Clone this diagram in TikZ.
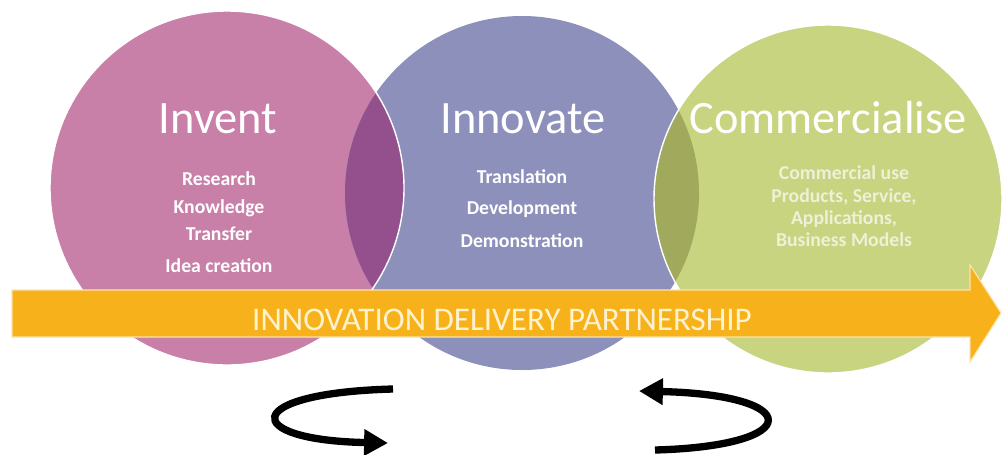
\documentclass[tikz,border=0pt]{standalone}
\usepackage{fontspec}
\setmainfont{Carlito}
\usepackage{tikz}
\usetikzlibrary{arrows.meta, positioning}

\definecolor{inventpink}{HTML}{C880A9}
\definecolor{inventdark}{HTML}{93508C}
\definecolor{innovateblue}{HTML}{8C90BA}
\definecolor{commgreen}{HTML}{C8D480}
\definecolor{commdark}{HTML}{A0A95C}
\definecolor{bandorange}{HTML}{F7B21B}
\definecolor{bandedge}{HTML}{FFE3A0}
\definecolor{bandtext}{HTML}{FFF2CF}
\definecolor{greentext}{HTML}{EEF1D8}

\begin{document}
\begin{tikzpicture}[
      x=0.025cm, y=-0.025cm,  % work in pixel-like units, y downwards
      title/.style={anchor=base, text=white, font=\fontsize{33}{36}\selectfont},
      item/.style={anchor=base, text=white, font=\bfseries\fontsize{14}{17}\selectfont},
      cycle arrow/.style={line width=5.2pt, -{Triangle[length=17pt, width=18pt]}}
    ]
    \useasboundingbox (0,0) rectangle (1003,454);

    % The three stages
    \coordinate (invent) at (227,188);
    \coordinate (innovate) at (522,193);
    \coordinate (commercialise) at (828,199);
    \fill[inventpink] (invent) circle[radius=177];
    \fill[innovateblue] (innovate) circle[radius=177];
    \fill[commgreen] (commercialise) circle[radius=174];

    % Overlaps are darker
    \begin{scope}
      \clip (invent) circle[radius=177];
      \fill[inventdark] (innovate) circle[radius=177];
    \end{scope}
    \begin{scope}
      \clip (commercialise) circle[radius=174];
      \fill[commdark] (innovate) circle[radius=177];
    \end{scope}
    \draw[white, line width=1pt] (invent) circle[radius=177];
    \draw[white, line width=1pt] (commercialise) circle[radius=174];

    % Headings
    \node[title] (invent title) at (218,133) {Invent};
    \node[title] (innovate title) at (523,133) {Innovate};
    \node[title] (commercialise title) at (828,133) {Commercialise};

    % What happens in each stage
    \foreach \txt/\y [count=\i] in {Research/185, Knowledge/213, Transfer/240, Idea creation/272}
      \node[item] (invent-\i) at (219,\y) {\txt};
    \foreach \txt/\y [count=\i] in {Translation/183, Development/214, Demonstration/247}
      \node[item] (innovate-\i) at (522,\y) {\txt};
    \foreach \txt/\y [count=\i] in {Commercial use/179, {Products, Service,}/202, {Applications,}/224, Business Models/246}
      \node[item, text=greentext] (commercialise-\i) at (844,\y) {\txt};

    % Partnership band across the bottom
    \fill[bandorange, draw=bandedge, line width=0.8pt]
      (12,290) -- (970,290) -- (970,265) -- (1001,313) -- (970,362) -- (970,337) -- (12,337) -- cycle;
    \node[anchor=base, text=bandtext, font=\fontsize{23.5}{26}\selectfont] (partnership) at (502,330)
      {INNOVATION DELIVERY PARTNERSHIP};

    % Feedback loops
    \coordinate (left tail) at (393,389);
    \coordinate (left tip) at (388,443);
    \coordinate (right tail) at (655,450);
    \coordinate (right tip) at (639,391);
    \draw[cycle arrow] (left tail) .. controls (240,393) and (240,440) .. (left tip);
    \draw[cycle arrow] (right tail) .. controls (805,446) and (805,395) .. (right tip);
\end{tikzpicture}
\end{document}
